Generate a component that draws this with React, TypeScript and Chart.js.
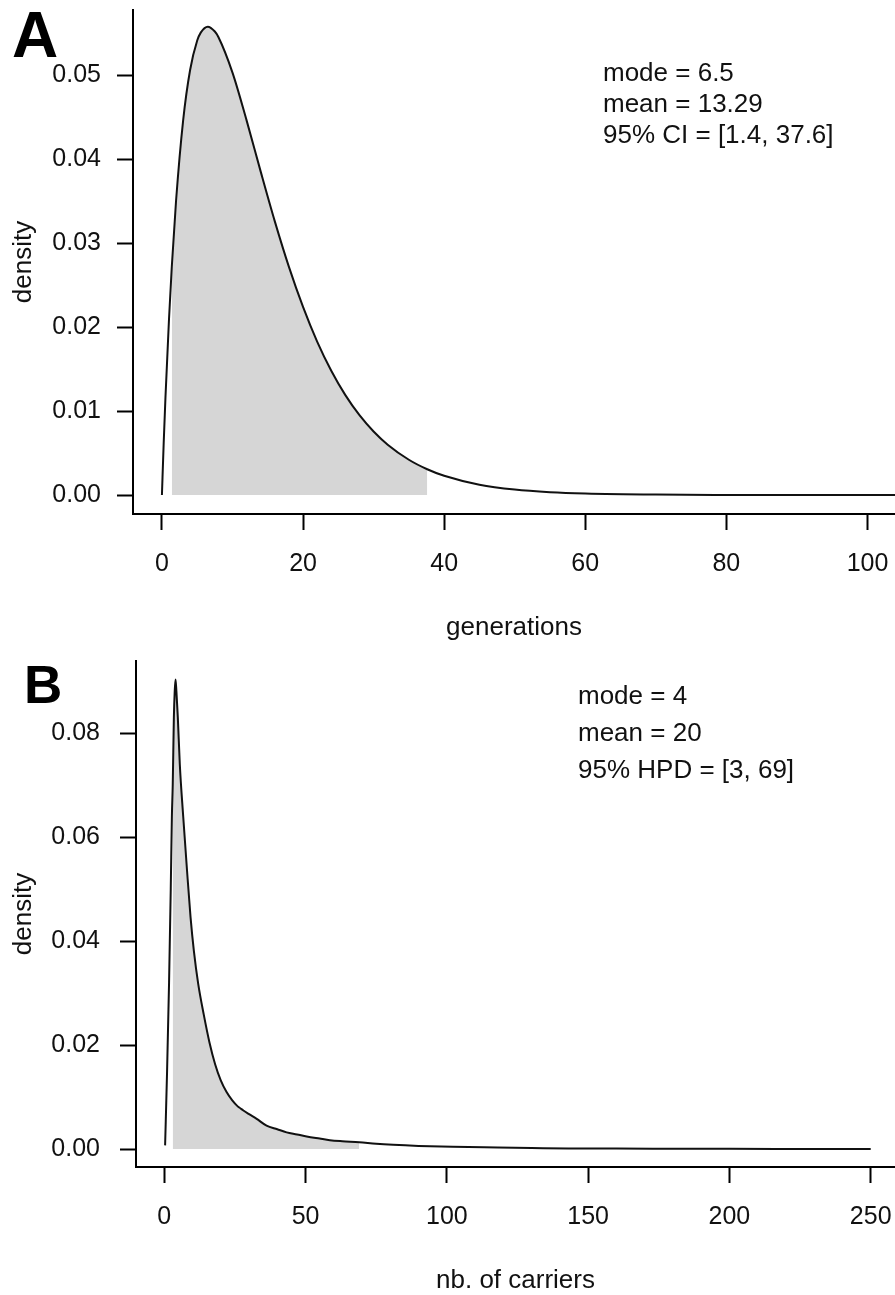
import React, { useEffect, useRef } from 'react';
import { Chart, registerables } from 'chart.js';

Chart.register(...registerables);

const FONT = '"Liberation Sans", Arial, Helvetica, sans-serif';
const INK = '#111111';
const SHADE = '#d6d6d6';

// ---------- Panel A : generations ----------
const genX = [0, 0.25, 0.5, 1, 1.4, 2, 3, 4, 5, 5.5, 6.5, 7.5, 8, 10, 12, 14, 16, 18, 20, 22, 24, 26, 28, 30, 32, 35, 37.6, 40, 45, 50, 55, 60, 70, 80, 90, 100, 104];
const genDensity = [0, 0.0062, 0.0116, 0.0209, 0.0272, 0.0350, 0.04455, 0.05063, 0.0541, 0.05505, 0.05576, 0.05518, 0.05453, 0.05029, 0.0446, 0.0385, 0.03258, 0.02716, 0.02239, 0.01826, 0.01479, 0.01189, 0.0095, 0.00756, 0.00599, 0.0042, 0.00307, 0.00229, 0.00123, 0.00065, 0.00034, 0.00018, 0.00005, 0.000012, 0.000003, 0.000001, 0.0000005];
const genTicks = [0, 20, 40, 60, 80, 100];
const genDensityTicks = [0, 0.01, 0.02, 0.03, 0.04, 0.05];
const genCI = [1.4, 37.6];
const genStats = ['mode = 6.5', 'mean = 13.29', '95% CI = [1.4, 37.6]'];

// ---------- Panel B : number of carriers ----------
const carX = [0.3, 1, 1.7, 2.3, 2.7, 3, 3.4, 3.7, 4, 4.3, 4.8, 5.5, 6.7, 8, 9.3, 10.5, 12, 14, 16, 18, 20, 22, 24, 26, 27, 28, 30, 32.7, 36.2, 40, 43.3, 47, 50.4, 55, 58.6, 63, 69, 75, 81, 90, 102, 118, 130, 143, 160, 180, 200, 225, 250];
const carDensity = [0.0007, 0.015, 0.032, 0.05, 0.064, 0.07, 0.083, 0.088, 0.0903, 0.088, 0.083, 0.074, 0.064, 0.054, 0.0446, 0.038, 0.0318, 0.0258, 0.0205, 0.0163, 0.0132, 0.011, 0.0094, 0.0082, 0.0078, 0.0074, 0.0067, 0.0058, 0.0045, 0.0038, 0.0032, 0.0028, 0.0024, 0.002, 0.0017, 0.0015, 0.0013, 0.001, 0.0008, 0.0006, 0.00044, 0.0003, 0.0002, 0.0001, 0.00008, 0.00005, 0.00003, 0.00002, 0.00001];
const carTicks = [0, 50, 100, 150, 200, 250];
const carDensityTicks = [0, 0.02, 0.04, 0.06, 0.08];
const carHPD = [3, 69];
const carStats = ['mode = 4', 'mean = 20', '95% HPD = [3, 69]'];

interface PanelCfg {
  width: number;
  height: number;
  padTop: number;
  yAxisWidth: number;
  xAxisHeight: number;
  xMin: number;
  xMax: number;
  yMin: number;
  yMax: number;
  xs: number[];
  ys: number[];
  band: number[];
  xTicks: number[];
  yTicks: number[];
  yTickPad: number;
  xTitle: string;
  xTitlePad: number;
  letter: string;
  letterSize: number;
  letterX: number;
  letterY: number;
  stats: string[];
  statsX: number;
  statsY: number;
  statsDy: number;
}

const panelA: PanelCfg = {
  width: 895, height: 647, padTop: 10, yAxisWidth: 133, xAxisHeight: 133,
  xMin: -4.1, xMax: 103.9, yMin: -0.00226, yMax: 0.05774,
  xs: genX, ys: genDensity, band: genCI, xTicks: genTicks, yTicks: genDensityTicks, yTickPad: 16,
  xTitle: 'generations', xTitlePad: 6, letter: 'A', letterSize: 64, letterX: 12, letterY: 57,
  stats: genStats, statsX: 603, statsY: 81, statsDy: 31,
};

const panelB: PanelCfg = {
  width: 895, height: 648, padTop: 14, yAxisWidth: 136, xAxisHeight: 128,
  xMin: -10, xMax: 258.6, yMin: -0.00346, yMax: 0.09385,
  xs: carX, ys: carDensity, band: carHPD, xTicks: carTicks, yTicks: carDensityTicks, yTickPad: 20,
  xTitle: 'nb. of carriers', xTitlePad: 1, letter: 'B', letterSize: 53, letterX: 24, letterY: 56,
  stats: carStats, statsX: 578, statsY: 57, statsDy: 37,
};

function annotationPlugin(cfg: PanelCfg) {
  return {
    id: 'annot' + cfg.letter,
    afterDraw(chart: any) {
      const ctx = chart.ctx;
      ctx.save();
      ctx.fillStyle = '#000';
      ctx.textAlign = 'left';
      ctx.textBaseline = 'alphabetic';
      ctx.font = `bold ${cfg.letterSize}px ${FONT}`;
      ctx.fillText(cfg.letter, cfg.letterX, cfg.letterY);
      ctx.fillStyle = INK;
      ctx.font = `26px ${FONT}`;
      cfg.stats.forEach((s, i) => ctx.fillText(s, cfg.statsX, cfg.statsY + i * cfg.statsDy));
      ctx.restore();
    },
  };
}

function buildChart(canvas: HTMLCanvasElement, cfg: PanelCfg) {
  const curve = cfg.xs.map((x, i) => ({ x, y: cfg.ys[i] }));
  const shaded = curve.filter((p) => p.x >= cfg.band[0] && p.x <= cfg.band[1]);
  return new Chart(canvas, {
    type: 'line',
    data: {
      datasets: [
        {
          data: curve,
          borderColor: INK,
          borderWidth: 2,
          pointRadius: 0,
          fill: false,
          cubicInterpolationMode: 'monotone',
        },
        {
          data: shaded,
          borderWidth: 0,
          borderColor: 'rgba(0,0,0,0)',
          backgroundColor: SHADE,
          pointRadius: 0,
          fill: 'origin',
          cubicInterpolationMode: 'monotone',
        },
      ],
    },
    options: {
      responsive: false,
      animation: false,
      events: [],
      layout: { padding: { top: cfg.padTop, left: 0, right: 0, bottom: 0 } },
      plugins: { legend: { display: false }, tooltip: { enabled: false } },
      scales: {
        x: {
          type: 'linear',
          min: cfg.xMin,
          max: cfg.xMax,
          afterBuildTicks: (s: any) => {
            s.ticks = cfg.xTicks.map((v) => ({ value: v }));
          },
          afterFit: (s: any) => {
            s.height = cfg.xAxisHeight;
            s.paddingLeft = 0;
            s.paddingRight = 0;
          },
          grid: { display: true, drawOnChartArea: false, drawTicks: true, tickLength: 16, tickWidth: 2, color: '#000', tickColor: '#000' },
          border: { display: true, color: '#000', width: 2 },
          ticks: {
            color: INK,
            padding: 19,
            autoSkip: false,
            maxRotation: 0,
            minRotation: 0,
            font: { family: FONT, size: 25 },
            callback: (v: any) => String(v),
          },
          title: {
            display: true,
            text: cfg.xTitle,
            color: INK,
            font: { family: FONT, size: 26, lineHeight: 1 },
            padding: { top: 0, bottom: cfg.xTitlePad },
          },
        },
        y: {
          type: 'linear',
          min: cfg.yMin,
          max: cfg.yMax,
          afterBuildTicks: (s: any) => {
            s.ticks = cfg.yTicks.map((v) => ({ value: v }));
          },
          afterFit: (s: any) => {
            s.width = cfg.yAxisWidth;
            s.paddingTop = 0;
            s.paddingBottom = 0;
          },
          grid: { display: true, drawOnChartArea: false, drawTicks: true, tickLength: 16, tickWidth: 2, color: '#000', tickColor: '#000' },
          border: { display: true, color: '#000', width: 2 },
          ticks: {
            color: INK,
            padding: cfg.yTickPad,
            autoSkip: false,
            font: { family: FONT, size: 25 },
            callback: (v: any) => Number(v).toFixed(2),
          },
          title: {
            display: true,
            text: 'density',
            color: INK,
            font: { family: FONT, size: 26, lineHeight: 1 },
            padding: { top: 11, bottom: 0 },
          },
        },
      },
    },
    plugins: [annotationPlugin(cfg)],
  } as any);
}

function Panel({ cfg, top }: { cfg: PanelCfg; top: number }) {
  const ref = useRef<HTMLCanvasElement | null>(null);
  useEffect(() => {
    if (!ref.current) return;
    const chart = buildChart(ref.current, cfg);
    return () => chart.destroy();
  }, [cfg]);
  return (
    <canvas
      ref={ref}
      width={cfg.width}
      height={cfg.height}
      style={{ position: 'absolute', left: 0, top, width: cfg.width, height: cfg.height, display: 'block' }}
    />
  );
}

export default function App() {
  return (
    <div style={{ position: 'absolute', left: 0, top: 0, width: 895, height: 1295, background: '#ffffff', overflow: 'hidden' }}>
      <Panel cfg={panelA} top={0} />
      <Panel cfg={panelB} top={647} />
    </div>
  );
}
